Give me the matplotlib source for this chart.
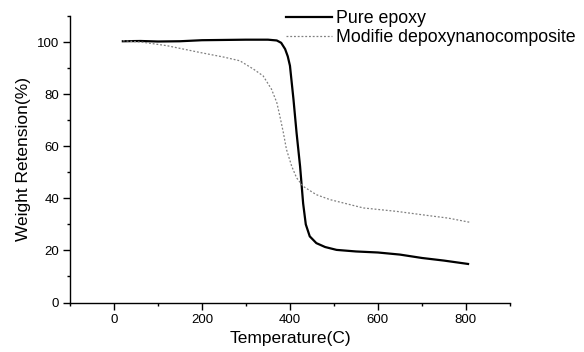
import matplotlib
matplotlib.use("Agg")
import matplotlib.pyplot as plt
from matplotlib.ticker import MultipleLocator

plt.rcParams['font.family'] = ['Liberation Sans', 'DejaVu Sans']

# Pure epoxy TGA curve
temp_pure = [20, 60, 100, 150, 200, 250, 300, 350, 370, 380, 389, 395, 400, 408,
             415, 423, 430, 436, 445, 460, 480, 506, 550, 600, 650, 700, 750, 805]
weight_pure = [100.3, 100.4, 100.2, 100.3, 100.7, 100.8, 100.9, 100.9, 100.6, 99.7,
               97.3, 94.5, 90.9, 78.0, 65.2, 52.3, 38.0, 30.0, 25.4, 22.8, 21.3,
               20.2, 19.6, 19.2, 18.4, 17.1, 16.1, 14.8]

# Modified epoxy nanocomposite
temp_mod = [20, 66, 120, 195, 250, 286, 317, 339, 358, 370, 377, 385, 392, 404,
            415, 430, 460, 491, 536, 567, 642, 718, 760, 809]
weight_mod = [100.5, 99.9, 98.6, 96.0, 94.2, 92.8, 89.6, 87.0, 81.9, 76.8, 71.6,
              65.2, 58.8, 52.3, 47.9, 44.6, 41.4, 39.5, 37.6, 36.3, 35.0, 33.3,
              32.4, 30.8]

fig = plt.figure(figsize=(5.84, 3.52), dpi=100)
ax = fig.add_axes([0.12, 0.1406, 0.753, 0.814])

ax.plot(temp_pure, weight_pure, color="black", linestyle="-", linewidth=1.6,
        label="Pure epoxy")
ax.plot(temp_mod, weight_mod, color="#808080", linestyle=(0, (1.5, 1.5)), linewidth=0.9,
        label="Modifie depoxynanocomposite")

ax.set_xlim(-100, 900)
ax.set_ylim(0, 110)
ax.xaxis.set_major_locator(MultipleLocator(200))
ax.xaxis.set_minor_locator(MultipleLocator(100))
ax.yaxis.set_major_locator(MultipleLocator(20))
ax.yaxis.set_minor_locator(MultipleLocator(10))

ax.spines['top'].set_visible(False)
ax.spines['right'].set_visible(False)
ax.spines['left'].set_linewidth(1.0)
ax.spines['bottom'].set_linewidth(1.0)
ax.tick_params(which="major", direction="out", length=5, width=1.0, labelsize=9.5, pad=3)
ax.tick_params(which="minor", direction="out", length=2.5, width=1.0)

ax.set_xlabel("Temperature(C)", fontsize=12.5, labelpad=4)
ax.set_ylabel("Weight Retension(%)", fontsize=12.5, labelpad=4)

leg = ax.legend(loc="upper right", bbox_to_anchor=(1.165, 1.045), frameon=False,
                fontsize=12.8, handlelength=2.6, handletextpad=0.2,
                labelspacing=0.12, borderaxespad=0)

plt.savefig("out.png", dpi=100)
